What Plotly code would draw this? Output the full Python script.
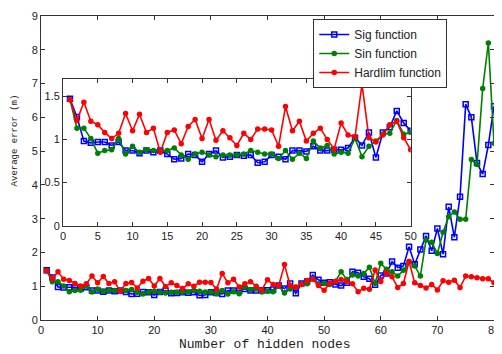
import plotly.graph_objects as go

nodes = list(range(1, 81))

sig = [1.47,1.26,0.98,0.96,0.97,0.97,0.93,0.97,0.87,0.87,0.84,0.87,0.85,0.87,0.83,0.77,0.78,0.83,0.82,0.74,
       0.83,0.87,0.79,0.80,0.82,0.81,0.82,0.73,0.74,0.82,0.80,0.77,0.87,0.87,0.86,0.92,0.87,0.87,0.88,0.88,
       0.90,1.02,0.93,1.08,0.79,1.08,1.14,1.33,1.19,1.10,1.12,1.05,1.02,1.10,1.43,1.40,1.28,1.22,1.04,1.32,
       1.38,1.73,1.55,1.60,2.17,1.65,2.09,2.49,2.05,2.71,1.95,3.35,2.45,3.65,6.39,6.00,4.65,4.32,5.18,6.33]

sin = [1.46,1.13,1.13,1.01,0.84,0.87,0.88,1.01,0.83,0.92,0.85,0.88,0.87,0.87,0.87,0.90,0.82,0.77,0.83,0.85,
       0.82,0.80,0.82,0.82,0.82,0.83,0.87,0.85,0.83,0.83,0.78,0.87,0.77,0.84,0.78,0.98,0.90,0.93,0.83,0.85,
       0.84,1.01,0.80,0.92,0.98,1.06,1.07,1.22,1.06,1.08,1.05,1.15,1.43,1.20,1.33,1.30,1.38,1.56,1.09,1.68,
       1.50,1.43,1.30,1.47,1.73,1.60,1.30,2.37,2.30,1.97,2.60,3.06,3.20,2.98,2.98,4.75,4.60,6.85,8.20,5.23]

hardlim = [1.46,1.22,1.43,1.21,1.17,1.08,1.01,1.07,1.30,1.10,1.29,1.08,1.13,0.85,1.08,1.11,0.95,1.15,1.23,1.01,
           1.23,0.99,1.10,1.02,0.93,1.07,1.00,1.12,1.12,1.11,0.92,1.38,1.10,1.21,0.98,1.07,1.13,1.00,0.89,1.19,
           1.05,1.03,1.64,1.02,0.97,1.05,1.17,1.21,1.02,0.88,1.09,1.14,1.20,1.14,1.07,0.84,0.94,0.91,1.48,1.14,
           1.40,1.28,0.96,1.08,1.73,1.10,1.02,0.95,1.05,0.89,1.16,1.12,1.18,0.96,1.30,1.28,1.25,1.22,1.22,1.10]

inset_n = 50

series = [
    ("Sig function", sig, "#0000FF", "square-open", 5),
    ("Sin function", sin, "#008000", "circle", 4),
    ("Hardlim function", hardlim, "#FF0000", "circle", 4),
]

fig = go.Figure()
for name, ys, col, sym, ms in series:
    fig.add_trace(go.Scatter(x=nodes, y=ys, name=name, mode="lines+markers",
                             line=dict(color=col, width=1.6),
                             marker=dict(symbol=sym, size=ms, color=col, line=dict(color=col, width=1.5)),
                             xaxis="x", yaxis="y"))
for name, ys, col, sym, ms in series:
    fig.add_trace(go.Scatter(x=nodes[:inset_n], y=ys[:inset_n], name=name, mode="lines+markers",
                             line=dict(color=col, width=1.6),
                             marker=dict(symbol=sym, size=ms, color=col, line=dict(color=col, width=1.5)),
                             xaxis="x2", yaxis="y2", showlegend=False))

tickfont = dict(family="Liberation Sans, Arial, sans-serif", size=11, color="#222")
axcommon = dict(showgrid=False, zeroline=False, showline=True, linecolor="#333", linewidth=1,
                mirror="ticks", ticks="inside", ticklen=4, tickcolor="#333", tickfont=tickfont)
monofont = "Liberation Mono, Courier New, monospace"

fig.update_layout(
    width=494, height=346,
    margin=dict(l=33, r=2, t=8, b=34),
    paper_bgcolor="white", plot_bgcolor="white",
    xaxis=dict(range=[0, 80], tickvals=[0, 10, 20, 30, 40, 50, 60, 70, 80], domain=[0, 1], **axcommon),
    yaxis=dict(range=[0, 9], tickvals=list(range(10)), domain=[0, 1], **axcommon),
    xaxis2=dict(range=[0, 50], tickvals=list(range(0, 51, 5)), domain=[0.0486, 0.816], anchor="y2",
                **axcommon),
    yaxis2=dict(range=[0, 1.7], tickvals=[0, 0.5, 1, 1.5], ticktext=["0", "0.5", "1", "1.5"],
                domain=[0.310, 0.793], anchor="x2", **axcommon),
    legend=dict(x=0.601, y=0.99, xanchor="left", yanchor="top", bgcolor="white",
                bordercolor="#333", borderwidth=1,
                font=dict(family="Liberation Sans, Arial, sans-serif", size=12, color="#222"),
                tracegroupgap=0),
    annotations=[
        dict(text="Average error (m)", textangle=-90, xref="paper", yref="paper",
             x=-0.0566, y=0.592, showarrow=False, xanchor="center", yanchor="middle",
             font=dict(family=monofont, size=9, color="#222")),
        dict(text="Number of hidden nodes", xref="paper", yref="paper",
             x=0.494, y=-0.082, showarrow=False, xanchor="center", yanchor="middle",
             font=dict(family=monofont, size=13, color="#222")),
    ],
    showlegend=True,
)

fig.write_html("out.html")
